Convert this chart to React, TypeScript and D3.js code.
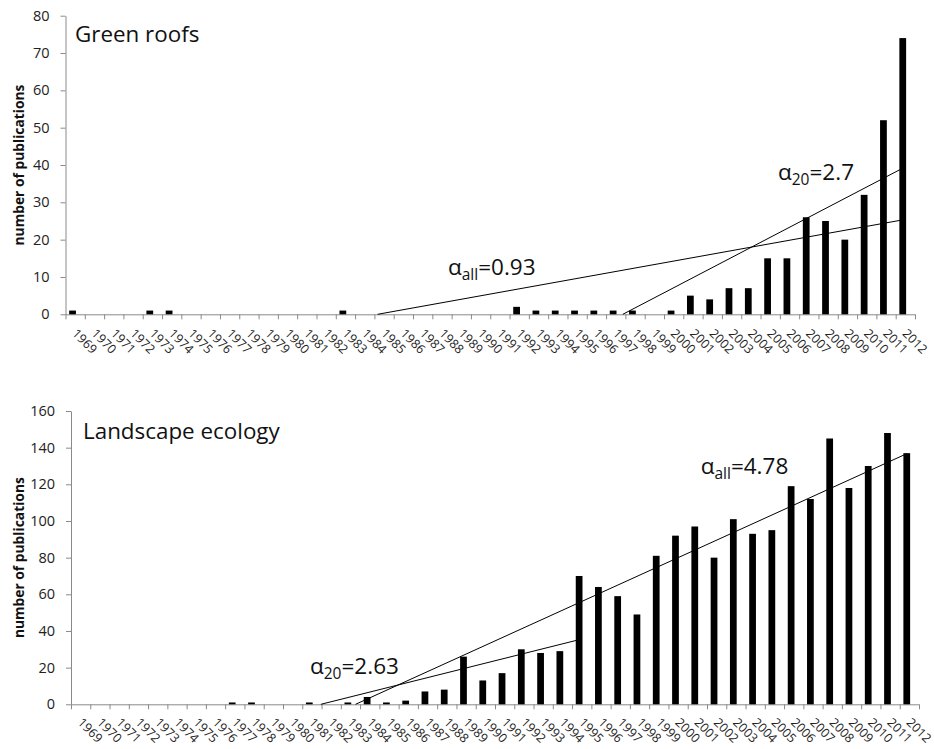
import { useEffect, useRef } from 'react';
import * as d3 from 'd3';

// publication years on the x axis
const years = [
  1969, 1970, 1971, 1972, 1973, 1974, 1975, 1976, 1977, 1978, 1979,
  1980, 1981, 1982, 1983, 1984, 1985, 1986, 1987, 1988, 1989, 1990,
  1991, 1992, 1993, 1994, 1995, 1996, 1997, 1998, 1999, 2000, 2001,
  2002, 2003, 2004, 2005, 2006, 2007, 2008, 2009, 2010, 2011, 2012,
];

// number of publications per year
const greenRoofs = [
  1, 0, 0, 0, 1, 1, 0, 0, 0, 0, 0,
  0, 0, 0, 1, 0, 0, 0, 0, 0, 0, 0,
  0, 2, 1, 1, 1, 1, 1, 1, 0, 1, 5,
  4, 7, 7, 15, 15, 26, 25, 20, 32, 52, 74,
];
const landscapeEcology = [
  0, 0, 0, 0, 0, 0, 0, 0, 1, 1, 0,
  0, 1, 0, 1, 4, 1, 2, 7, 8, 26, 13,
  17, 30, 28, 29, 70, 64, 59, 49, 81, 92, 97,
  80, 101, 93, 95, 119, 112, 145, 118, 130, 148, 137,
];

const greenRoofTicks = [0, 10, 20, 30, 40, 50, 60, 70, 80];
const landscapeTicks = [0, 20, 40, 60, 80, 100, 120, 140, 160];

// linear trends: slope (alpha), year where the fit crosses zero, fitted span
interface Trend { slope: number; zeroYear: number; from: number; to: number; sub: string; }
const greenRoofTrends: Trend[] = [
  { slope: 0.93, zeroYear: 1984.8, from: 1969, to: 2012, sub: 'all' },
  { slope: 2.7, zeroYear: 1997.5, from: 1993, to: 2012, sub: '20' },
];
const landscapeTrends: Trend[] = [
  { slope: 4.78, zeroYear: 1983.4, from: 1969, to: 2012, sub: 'all' },
  { slope: 2.63, zeroYear: 1981.6, from: 1976, to: 1995, sub: '20' },
];

const font = "'Open Sans', sans-serif";
const axisColor = '#8a8a8a';

interface Panel {
  title: string;
  values: number[];
  ticks: number[];
  trends: Trend[];
  left: number; right: number; top: number; bottom: number;
  titleX: number; titleY: number;
  labelAt: [number, number][];
  labelDy: number;
}

const drawPanel = (root: d3.Selection<SVGSVGElement, unknown, null, undefined>, p: Panel) => {
  const g = root.append('g');
  const x = d3.scaleBand<number>().domain(years).range([p.left, p.right]);
  const y = d3.scaleLinear().domain([0, p.ticks[p.ticks.length - 1]]).range([p.bottom, p.top]);
  const shift = -2.6; // excel draws the bars slightly left of the band centre
  const cx = (yr: number) => (x(yr) as number) + x.bandwidth() / 2 + shift;
  const xt = d3.scaleLinear()
    .domain([years[0], years[years.length - 1]])
    .range([cx(years[0]), cx(years[years.length - 1])]);
  const barW = x.step() * 0.35;

  // y axis
  const yAxis = d3.axisLeft(y).tickValues(p.ticks).tickSize(5).tickSizeOuter(0).tickPadding(11);
  g.append('g')
    .attr('transform', `translate(${p.left},0)`)
    .call(yAxis)
    .call(s => s.selectAll('line,path').attr('stroke', axisColor))
    .call(s => s.selectAll('text')
      .attr('font-family', font)
      .attr('font-size', 14.5)
      .attr('fill', '#222'));

  // y axis title
  g.append('text')
    .attr('transform', `translate(18,${(p.top + p.bottom) / 2}) rotate(-90)`)
    .attr('text-anchor', 'middle')
    .attr('dominant-baseline', 'central')
    .attr('font-family', font)
    .attr('font-weight', 'bold')
    .attr('font-size', 13.8)
    .attr('fill', '#111')
    .text('number of publications');

  // x axis line and tick marks on the category edges
  const x0 = y(0);
  g.append('line')
    .attr('x1', p.left).attr('x2', p.right)
    .attr('y1', x0 + 0.5).attr('y2', x0 + 0.5)
    .attr('stroke', axisColor);
  g.append('g')
    .selectAll('line')
    .data([...years.map(yr => x(yr) as number), p.right])
    .join('line')
    .attr('x1', d => d + 0.5).attr('x2', d => d + 0.5)
    .attr('y1', x0).attr('y2', x0 + 5)
    .attr('stroke', axisColor);

  // rotated year labels
  g.append('g')
    .selectAll('text')
    .data(years)
    .join('text')
    .attr('transform', d => `translate(${cx(d) - 1},${x0 + p.labelDy}) rotate(45)`)
    .attr('font-family', font)
    .attr('font-size', 12.5)
    .attr('fill', '#222')
    .text(d => d);

  // bars
  g.append('g')
    .selectAll('rect')
    .data(years.map((yr, i) => ({ yr, v: p.values[i] })).filter(d => d.v > 0))
    .join('rect')
    .attr('x', d => cx(d.yr) - barW / 2)
    .attr('y', d => y(d.v))
    .attr('width', barW)
    .attr('height', d => x0 - y(d.v))
    .attr('fill', '#000');

  // trend lines, clipped at zero like the original
  g.append('g')
    .selectAll('line')
    .data(p.trends)
    .join('line')
    .attr('x1', t => xt(Math.max(t.from, t.zeroYear)))
    .attr('y1', t => y(t.slope * (Math.max(t.from, t.zeroYear) - t.zeroYear)))
    .attr('x2', t => xt(t.to))
    .attr('y2', t => y(t.slope * (t.to - t.zeroYear)))
    .attr('stroke', '#000')
    .attr('stroke-width', 1);

  // alpha labels
  p.trends.forEach((t, i) => {
    const [lx, ly] = p.labelAt[i];
    const txt = g.append('text')
      .attr('x', lx).attr('y', ly)
      .attr('font-family', font)
      .attr('font-size', 22.5)
      .attr('fill', '#111');
    txt.append('tspan').text('α');
    txt.append('tspan').attr('font-size', 15.5).attr('dy', 5).text(t.sub);
    txt.append('tspan').attr('dy', -5).text(`=${t.slope}`);
  });

  // panel title
  g.append('text')
    .attr('x', p.titleX).attr('y', p.titleY)
    .attr('font-family', font)
    .attr('font-size', 22.4)
    .attr('fill', '#111')
    .text(p.title);
};

export default function App() {
  const ref = useRef<SVGSVGElement>(null);

  useEffect(() => {
    if (!ref.current) return;
    const svg = d3.select(ref.current);
    svg.selectAll('*').remove();

    drawPanel(svg, {
      title: 'Green roofs',
      values: greenRoofs,
      ticks: greenRoofTicks,
      trends: greenRoofTrends,
      left: 65.5, right: 915, top: 15.7, bottom: 314.3,
      titleX: 75, titleY: 42,
      labelAt: [[448, 275], [778, 180]],
      labelDy: 20,
    });

    drawPanel(svg, {
      title: 'Landscape ecology',
      values: landscapeEcology,
      ticks: landscapeTicks,
      trends: landscapeTrends,
      left: 71, right: 919, top: 411, bottom: 704.3,
      titleX: 83, titleY: 439,
      labelAt: [[700.7, 474.3], [310, 673.5]],
      labelDy: 19,
    });
  }, []);

  return (
    <svg
      ref={ref}
      width={934}
      height={749}
      style={{ position: 'absolute', left: 0, top: 0, background: '#fff', display: 'block' }}
    />
  );
}
